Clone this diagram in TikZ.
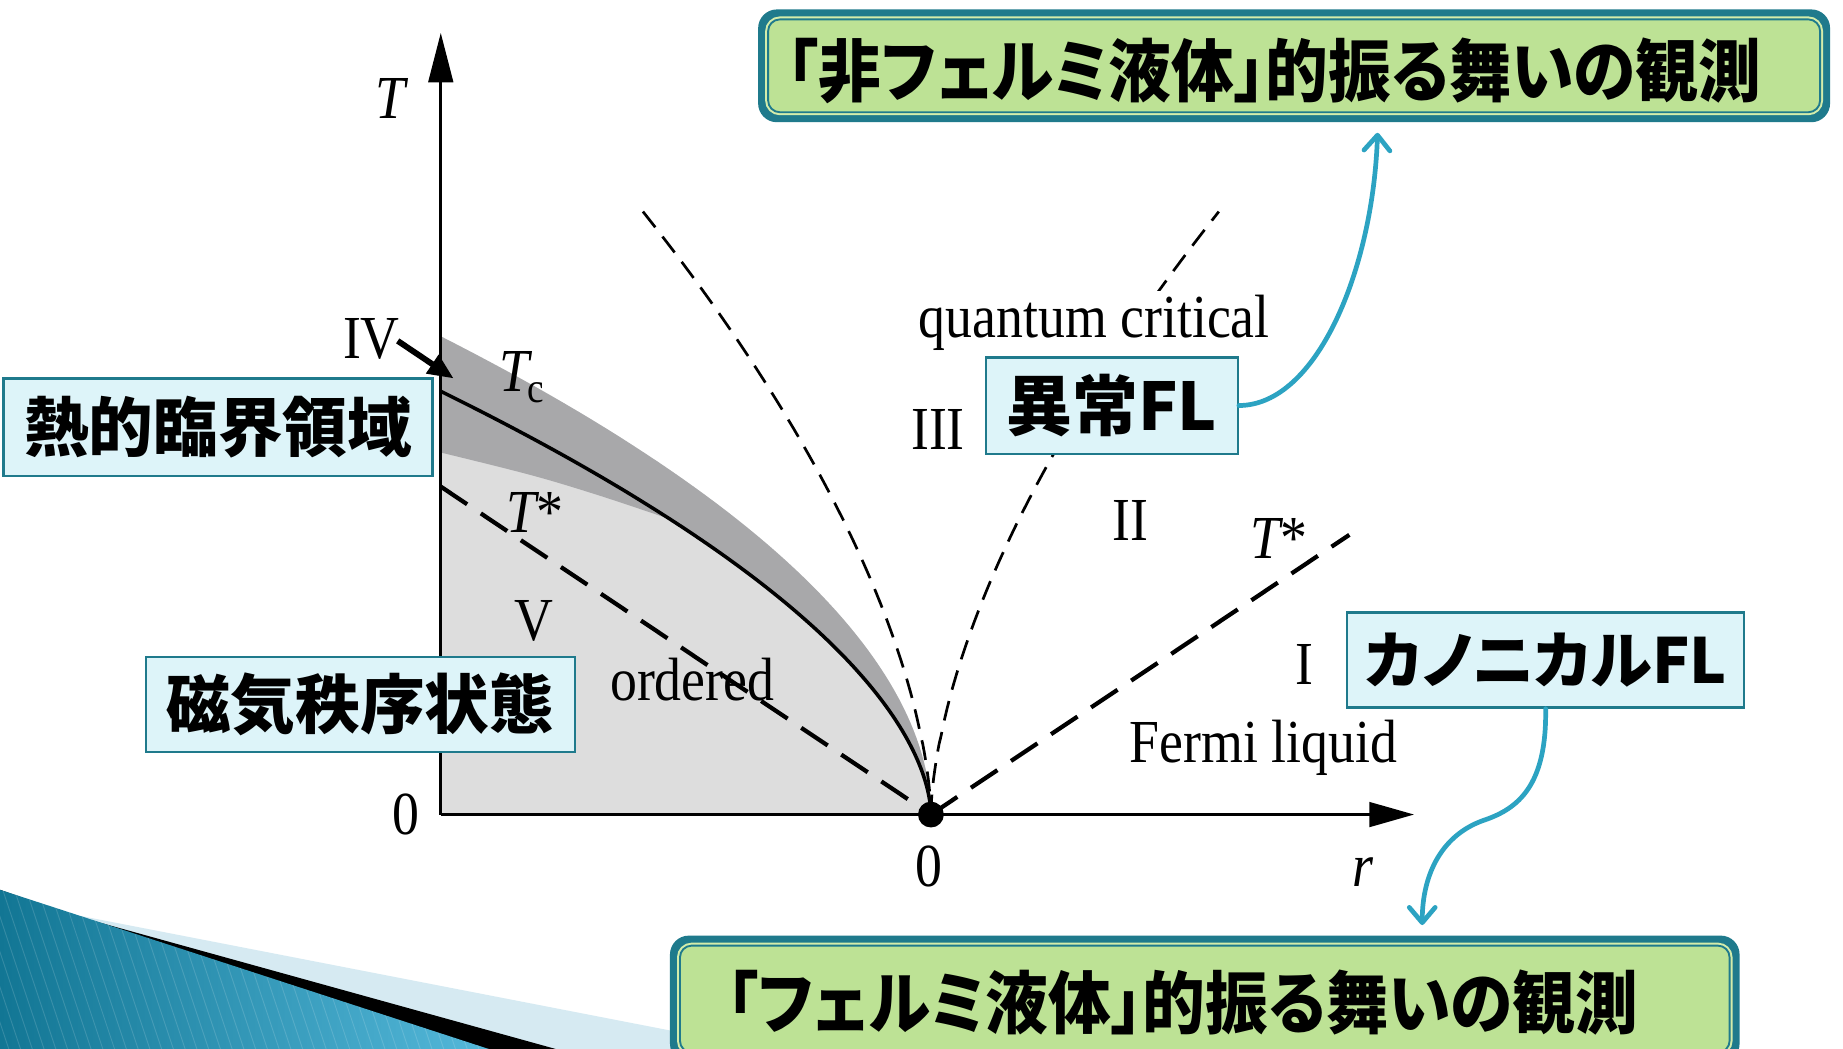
\documentclass[tikz,border=0pt]{standalone}
\usepackage{fontspec}
\newfontfamily\pf{Liberation Serif}[FakeStretch=0.88]
\newfontfamily\jp{Noto Sans CJK JP}[RawFeature=+palt]
\newfontfamily\jpn{Noto Sans CJK JP}[RawFeature=+palt, FakeStretch=0.92]
\usetikzlibrary{arrows.meta}
\definecolor{frameteal}{RGB}{31,122,140}
\definecolor{boxgreen}{RGB}{189,226,149}
\definecolor{lgreen}{RGB}{212,236,170}
\definecolor{boxblue}{RGB}{221,244,249}
\definecolor{conncol}{RGB}{44,163,194}
\definecolor{lgray}{RGB}{221,221,221}
\definecolor{dgray}{RGB}{168,168,170}
\definecolor{swlight}{RGB}{214,234,242}
\definecolor{swdark}{RGB}{18,118,148}
\definecolor{swmid}{RGB}{88,188,222}
\tikzset{
  tstar/.style={line width=3.6pt, dash pattern=on 27pt off 14pt},
  qcdash/.style={line width=2.3pt, dash pattern=on 17pt off 10pt},
  axisline/.style={line width=2.2pt},
  lbl/.style={font=\pf\fontsize{52}{52}\selectfont, inner sep=0pt},
  sublbl/.style={font=\pf\fontsize{36}{36}\selectfont, inner sep=0pt},
  bluebox/.style={draw=frameteal, line width=2pt, fill=boxblue, inner sep=0pt, font=\jp\bfseries\fontsize{55}{55}\selectfont},
  gframe/.style={fill=frameteal, rounded corners=16pt, inner sep=0pt},
  ginner/.style={fill=boxgreen, draw=frameteal, line width=1.6pt, rounded corners=10pt, inner sep=0pt, preaction={draw=lgreen, line width=5pt}},
  gtext/.style={font=\jpn\bfseries\fontsize{58}{58}\selectfont, inner sep=0pt},
  conn/.style={draw=conncol, line width=4pt, line cap=round, -{Straight Barb[length=13pt, width=22pt, round]}},
}
\begin{document}
\begin{tikzpicture}[x=1pt,y=-1pt]
\useasboundingbox (0,0) rectangle (1568,892);
\fill[white] (0,0) rectangle (1568,892);
\clip (0,0) rectangle (1568,892);

% decorative swoosh (bottom left)
\fill[swlight] (57,777) -- (690,900) -- (0,900) -- (0,757) -- cycle;
\fill[black] (60,778) -- (500,900) -- (0,900) -- (0,757) -- cycle;
\begin{scope}
  \clip (0,757) -- (439,900) -- (0,900) -- cycle;
  \shade[left color=swdark, right color=swmid] (0,750) rectangle (440,900);
  \foreach \k in {0,...,52} \draw[white, opacity=0.14, line width=0.8pt] ({-60+\k*10},750) -- ({-10+\k*10},900);
\end{scope}

% phase diagram
\coordinate (O) at (375,693);
\coordinate (qcp) at (792,693);
\coordinate (Ttop) at (375,28);
\coordinate (rend) at (1203,693);

\fill[lgray] (O) -- (375,286) -- plot[domain=20.42:0.02, samples=60] ({792-\x*\x},{693-17.66*pow(\x,1.04)}) -- (qcp) -- cycle;
\fill[dgray] (375,286) -- plot[domain=20.42:0.02, samples=60] ({792-\x*\x},{693-17.66*pow(\x,1.04)}) -- (qcp)
  -- plot[domain=0.02:15.07, samples=40] ({792-\x*\x},{693-11.56*pow(\x,1.14)})
  -- plot[smooth, tension=0.6] coordinates {(565,440) (508,421) (451,404) (375,385)} -- cycle;
\draw[line width=3pt] plot[domain=20.42:0.02, samples=100] ({792-\x*\x},{693-11.56*pow(\x,1.14)}) -- (qcp);

\draw[qcdash] plot[domain=513:0.5, samples=70] ({792-245*pow(\x/513,1.66)},{693-\x}) -- (qcp);
\draw[qcdash] (qcp) -- plot[domain=0.5:513, samples=70] ({792+245*pow(\x/513,1.66)},{693-\x});

\coordinate (tsl) at (375,414);
\coordinate (tsr) at (1148,455);
\draw[tstar] (tsl) -- (qcp);
\draw[tstar] (qcp) -- (tsr);

\draw[axisline, -{Triangle[length=42pt,width=21pt]}] (O) -- (Ttop);
\draw[axisline, -{Triangle[length=38pt,width=21pt]}] (O) -- (rend);
\node[circle, fill=black, inner sep=0pt, minimum size=22pt] (qcpdot) at (qcp) {};

\node[lbl] (Tlab) at (332,84) {\itshape T};
\node[lbl] (Tc) at (438,316) {\itshape T};
\node[sublbl] (Tcsub) at (456,334) {c};
\node[lbl] (Tsl) at (455,436) {\itshape T\upshape*};
\node[lbl] (Tsr) at (1088,458) {\itshape T\upshape*};
\node[lbl] (V) at (454,528) {V};
\node[lbl] (ord) at (589,578) {ordered};
\node[lbl, fill=white, inner ysep=4pt, inner xsep=2pt] (qc) at (931,275) {quantum critical};
\node[lbl] (III) at (798,365) {III};
\node[lbl] (II) at (962,443) {II};
\node[lbl] (I) at (1110,565) {I};
\node[lbl] (FL) at (1075,636) {Fermi liquid};
\node[lbl] (IV) at (316,288) {IV};
\node[lbl] (zl) at (345,693) {0};
\node[lbl] (zb) at (790,737) {0};
\node[lbl] (rl) at (1160,742) {\itshape r};
\coordinate (IVtip) at (386,322);
\draw[line width=5pt, -{Triangle[length=22pt,width=18pt]}] ([xshift=-2pt,yshift=-2pt]IV.east) -- (IVtip);

% blue label boxes
\node[bluebox, minimum width=365pt, minimum height=83pt] (thermal) at (185.5,363.5) {熱的臨界領域};
\node[bluebox, minimum width=365pt, minimum height=81pt] (magnetic) at (306.5,599.5) {磁気秩序状態};
\node[bluebox, minimum width=214pt, minimum height=82pt, font=\jp\bfseries\fontsize{56}{56}\selectfont] (ijou) at (946,345) {異常FL};
\node[bluebox, minimum width=338pt, minimum height=81pt, font=\jp\bfseries\fontsize{53}{53}\selectfont] (canon) at (1315,561.5) {カノニカルFL};

% green result boxes
\node[gframe, minimum width=912pt, minimum height=96pt] (topframe) at (1101,56) {};
\node[ginner, minimum width=895pt, minimum height=79pt] (topbox) at (topframe.center) {};
\node[gtext] (toptext) at (1084,60) {「非フェルミ液体」的振る舞いの観測};

\node[gframe, minimum width=910pt, minimum height=108pt] (botframe) at (1025,850) {};
\node[ginner, minimum width=893pt, minimum height=91pt] (botbox) at (botframe.center) {};
\node[gtext] (bottext) at (1006,853) {「フェルミ液体」的振る舞いの観測};

% connectors
\coordinate (tipA) at (1172,113);
\coordinate (tipB) at (1210,787);
\draw[conn] (ijou.east) .. controls (1120,345) and (1168,230) .. (tipA);
\draw[conn] (canon.south) .. controls (1316,668) and (1292,688) .. (1262,698) .. controls (1228,710) and (1210,742) .. (tipB);
\end{tikzpicture}
\end{document}
